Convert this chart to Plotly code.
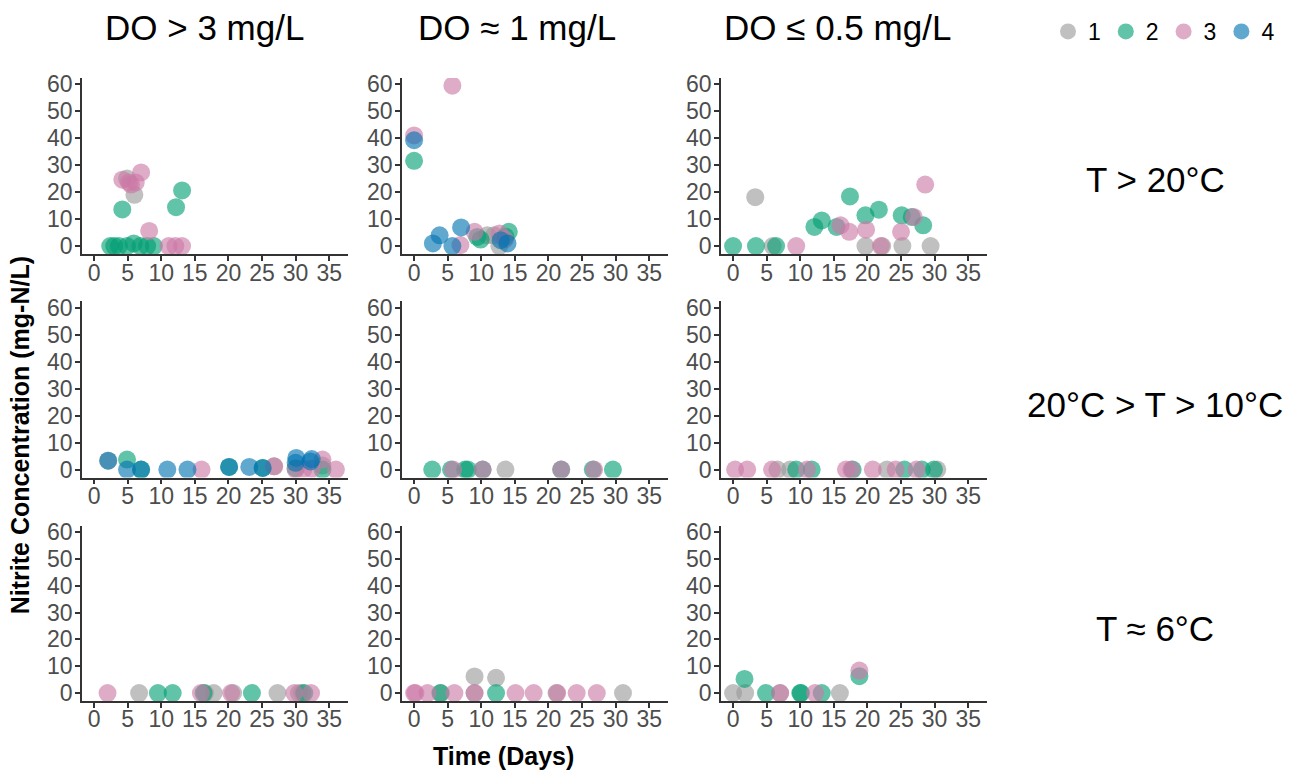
import plotly.graph_objects as go

W, H = 1295, 776

col_titles = ["DO > 3 mg/L", "DO ≈ 1 mg/L", "DO ≤ 0.5 mg/L"]
row_titles = ["T > 20°C", "20°C > T > 10°C", "T ≈ 6°C"]
groups = ["1", "2", "3", "4"]
colors = ["#999999", "#009E73", "#CC79A7", "#0072B2"]
x_ticks = [0, 5, 10, 15, 20, 25, 30, 35]
y_ticks = [0, 10, 20, 30, 40, 50, 60]

# ---- Row 1 (T > 20°C) ----
r1c1_g1_x = [4.9, 6.0]
r1c1_g1_y = [25.0, 19.0]
r1c1_g2_x = [2.4, 3.0, 3.7, 4.2, 4.9, 5.9, 6.9, 7.9, 8.9, 12.2, 13.1]
r1c1_g2_y = [0, 0, 0, 13.6, 0, 1.0, 0, 0, 0, 14.4, 20.6]
r1c1_g3_x = [4.2, 5.2, 5.5, 6.2, 7.0, 8.2, 11.1, 12.1, 13.1]
r1c1_g3_y = [24.6, 23.6, 22.8, 23.6, 27.3, 5.6, 0, 0, 0]

r1c2_g1_x = [10.9, 11.9, 12.7]
r1c2_g1_y = [4.0, 4.0, 0]
r1c2_g2_x = [0, 9.4, 9.9, 14.1, 13.6]
r1c2_g2_y = [31.6, 3.4, 2.4, 5.3, 3.5]
r1c2_g3_x = [0, 5.7, 6.9, 9.0, 12.7, 13.5]
r1c2_g3_y = [41.0, 59.4, 0.4, 5.3, 4.7, 2.5]
r1c2_g4_x = [0, 2.8, 3.8, 5.7, 7.0, 12.9, 13.9]
r1c2_g4_y = [39.2, 1.0, 4.0, 0, 6.9, 2.2, 1.0]

r1c3_g1_x = [3.3, 5.9, 19.7, 22.2, 25.2, 29.4]
r1c3_g1_y = [18.1, 0, 0, 0, 0, 0]
r1c3_g2_x = [0, 3.4, 6.4, 12.1, 13.2, 15.4, 17.4, 19.7, 21.7, 25.1, 26.6, 28.3]
r1c3_g2_y = [0, 0, 0, 7.1, 9.5, 7.1, 18.4, 11.4, 13.5, 11.4, 10.8, 7.7]
r1c3_g3_x = [9.4, 16.0, 17.3, 19.8, 22.0, 25.0, 26.9, 28.6]
r1c3_g3_y = [0, 7.7, 5.3, 6.1, 0, 5.3, 10.8, 22.8]

# ---- Row 2 (20°C > T > 10°C) ----
r2c1_g1_x = [2.1, 26.8, 34.0]
r2c1_g1_y = [3.3, 1.2, 1.5]
r2c1_g2_x = [4.9, 7.0, 20.1, 25.1, 30.0, 34.0]
r2c1_g2_y = [3.7, 0, 1.0, 0.6, 0.5, 0]
r2c1_g3_x = [16.0, 26.8, 30.0, 31.2, 32.4, 34.0, 36.0]
r2c1_g3_y = [0, 1.2, 0, 0.3, 0.3, 3.7, 0]
r2c1_g4_x = [2.1, 4.9, 7.0, 10.9, 13.9, 20.1, 23.1, 25.1, 30.1, 30.0, 32.4, 32.2]
r2c1_g4_y = [3.3, 0, 0, 0, 0, 1.0, 1.0, 0.6, 4.3, 2.5, 3.9, 3.0]

r2c2_g1_x = [13.6]
r2c2_g1_y = [0]
r2c2_g2_x = [2.7, 5.5, 7.6, 8.0, 10.2, 21.9, 26.6, 29.6]
r2c2_g2_y = [0, 0, 0, 0, 0, 0, 0, 0]
r2c2_g3_x = [5.8, 10.2, 21.9, 26.8]
r2c2_g3_y = [0, 0, 0, 0]

r2c3_g1_x = [6.6, 8.5, 22.9, 30.4]
r2c3_g1_y = [0, 0, 0, 0]
r2c3_g2_x = [9.4, 11.7, 17.8, 25.5, 28.1, 29.9]
r2c3_g2_y = [0, 0, 0, 0, 0, 0]
r2c3_g3_x = [0.3, 2.1, 5.8, 11.0, 16.8, 17.6, 20.8, 24.2, 27.3]
r2c3_g3_y = [0, 0, 0, 0, 0, 0, 0, 0, 0]

# ---- Row 3 (T ≈ 6°C) ----
r3c1_g1_x = [6.7, 16.5, 17.8, 20.7, 27.3, 30.5, 31.0]
r3c1_g1_y = [0, 0, 0, 0, 0, 0, 0]
r3c1_g2_x = [9.5, 11.7, 16.3, 23.5, 31.3]
r3c1_g2_y = [0, 0, 0, 0, 0]
r3c1_g3_x = [2.0, 15.9, 20.4, 29.8, 32.3]
r3c1_g3_y = [0, 0, 0, 0, 0]

r3c2_g1_x = [4.0, 9.0, 9.0, 12.2, 21.2, 31.1]
r3c2_g1_y = [0, 6.2, 0, 5.7, 0, 0]
r3c2_g2_x = [3.9, 12.2]
r3c2_g2_y = [0, 0]
r3c2_g3_x = [0, 0.2, 2.0, 6.0, 9.0, 15.1, 17.8, 21.3, 24.2, 27.2]
r3c2_g3_y = [0, 0, 0, 0, 0, 0, 0, 0, 0, 0]

r3c3_g1_x = [0, 1.8, 7.0, 15.9]
r3c3_g1_y = [0, 0, 0, 0]
r3c3_g2_x = [1.7, 4.9, 10.0, 10.1, 13.2, 18.8]
r3c3_g2_y = [5.3, 0, 0, 0, 0, 6.3]
r3c3_g3_x = [7.0, 12.2, 18.8]
r3c3_g3_y = [0, 0, 8.4]

panels = {
    (0, 0): [(r1c1_g1_x, r1c1_g1_y), (r1c1_g2_x, r1c1_g2_y), (r1c1_g3_x, r1c1_g3_y), None],
    (0, 1): [(r1c2_g1_x, r1c2_g1_y), (r1c2_g2_x, r1c2_g2_y), (r1c2_g3_x, r1c2_g3_y), (r1c2_g4_x, r1c2_g4_y)],
    (0, 2): [(r1c3_g1_x, r1c3_g1_y), (r1c3_g2_x, r1c3_g2_y), (r1c3_g3_x, r1c3_g3_y), None],
    (1, 0): [(r2c1_g1_x, r2c1_g1_y), (r2c1_g2_x, r2c1_g2_y), (r2c1_g3_x, r2c1_g3_y), (r2c1_g4_x, r2c1_g4_y)],
    (1, 1): [(r2c2_g1_x, r2c2_g1_y), (r2c2_g2_x, r2c2_g2_y), (r2c2_g3_x, r2c2_g3_y), None],
    (1, 2): [(r2c3_g1_x, r2c3_g1_y), (r2c3_g2_x, r2c3_g2_y), (r2c3_g3_x, r2c3_g3_y), None],
    (2, 0): [(r3c1_g1_x, r3c1_g1_y), (r3c1_g2_x, r3c1_g2_y), (r3c1_g3_x, r3c1_g3_y), None],
    (2, 1): [(r3c2_g1_x, r3c2_g1_y), (r3c2_g2_x, r3c2_g2_y), (r3c2_g3_x, r3c2_g3_y), None],
    (2, 2): [(r3c3_g1_x, r3c3_g1_y), (r3c3_g2_x, r3c3_g2_y), (r3c3_g3_x, r3c3_g3_y), None],
}

# layout geometry (pixels)
col_px = [(82, 348), (402, 668), (721, 987)]
row_px = [(72, 251), (299, 478), (527, 705)]
col_title_px = [205, 517, 837]
row_title_py = [175, 404, 631]

FONT = "Liberation Sans, Arial, sans-serif"
fig = go.Figure()
shown = set()
layout_axes = {}
for (r, c), series in panels.items():
    idx = r * 3 + c + 1
    xa = "x" if idx == 1 else f"x{idx}"
    ya = "y" if idx == 1 else f"y{idx}"
    for g, s in enumerate(series):
        if s is None:
            continue
        xs, ys = s
        fig.add_trace(go.Scatter(
            x=xs, y=ys, mode="markers", xaxis=xa, yaxis=ya,
            name=groups[g], legendgroup=groups[g],
            showlegend=groups[g] not in shown,
            marker=dict(color=colors[g], size=18, opacity=0.62, line=dict(width=0)),
        ))
        shown.add(groups[g])
    x0, x1 = col_px[c]
    y0, y1 = row_px[r]
    axcommon = dict(showline=True, linecolor="#333333", linewidth=1.6,
                    ticks="outside", ticklen=5, tickwidth=1.6, tickcolor="#333333",
                    showgrid=False, zeroline=False,
                    tickfont=dict(family=FONT, size=23, color="#4D4D4D"))
    layout_axes["xaxis" if idx == 1 else f"xaxis{idx}"] = dict(
        axcommon, domain=[x0 / W, x1 / W], range=[-1.8, 37.8], tickvals=x_ticks,
        anchor=ya, ticklabelstandoff=-8)
    layout_axes["yaxis" if idx == 1 else f"yaxis{idx}"] = dict(
        axcommon, domain=[1 - y1 / H, 1 - y0 / H], range=[-2.97, 62.3], tickvals=y_ticks,
        anchor=xa, ticklabelstandoff=-2)

annotations = []
for c, t in enumerate(col_titles):
    annotations.append(dict(text=t, x=col_title_px[c] / W, y=1 - 21 / H, xref="paper", yref="paper",
                            showarrow=False, xanchor="center", yanchor="middle",
                            font=dict(family=FONT, size=35, color="black")))
for r, t in enumerate(row_titles):
    annotations.append(dict(text=t, x=1155 / W, y=1 - row_title_py[r] / H, xref="paper", yref="paper",
                            showarrow=False, xanchor="center", yanchor="middle",
                            font=dict(family=FONT, size=35, color="black")))
annotations.append(dict(text="<b>Nitrite Concentration (mg-N/L)</b>", x=20 / W, y=1 - 435 / H,
                        xref="paper", yref="paper", showarrow=False, textangle=-90,
                        xanchor="center", yanchor="middle",
                        font=dict(family=FONT, size=25, color="black")))
annotations.append(dict(text="<b>Time (Days)</b>", x=503 / W, y=1 - 761 / H,
                        xref="paper", yref="paper", showarrow=False,
                        xanchor="center", yanchor="middle",
                        font=dict(family=FONT, size=25, color="black")))

fig.update_layout(
    width=W, height=H, margin=dict(l=0, r=0, t=0, b=0),
    plot_bgcolor="white", paper_bgcolor="white",
    annotations=annotations,
    legend=dict(orientation="h", x=1048 / W, y=1 - 3 / H, xanchor="left", yanchor="top",
                font=dict(family=FONT, size=23, color="black"), itemwidth=30,
                tracegroupgap=0, bgcolor="rgba(0,0,0,0)"),
    **layout_axes,
)
fig.write_html("out.html", config={"displayModeBar": False},
               post_script="document.body.style.margin='0px';")
